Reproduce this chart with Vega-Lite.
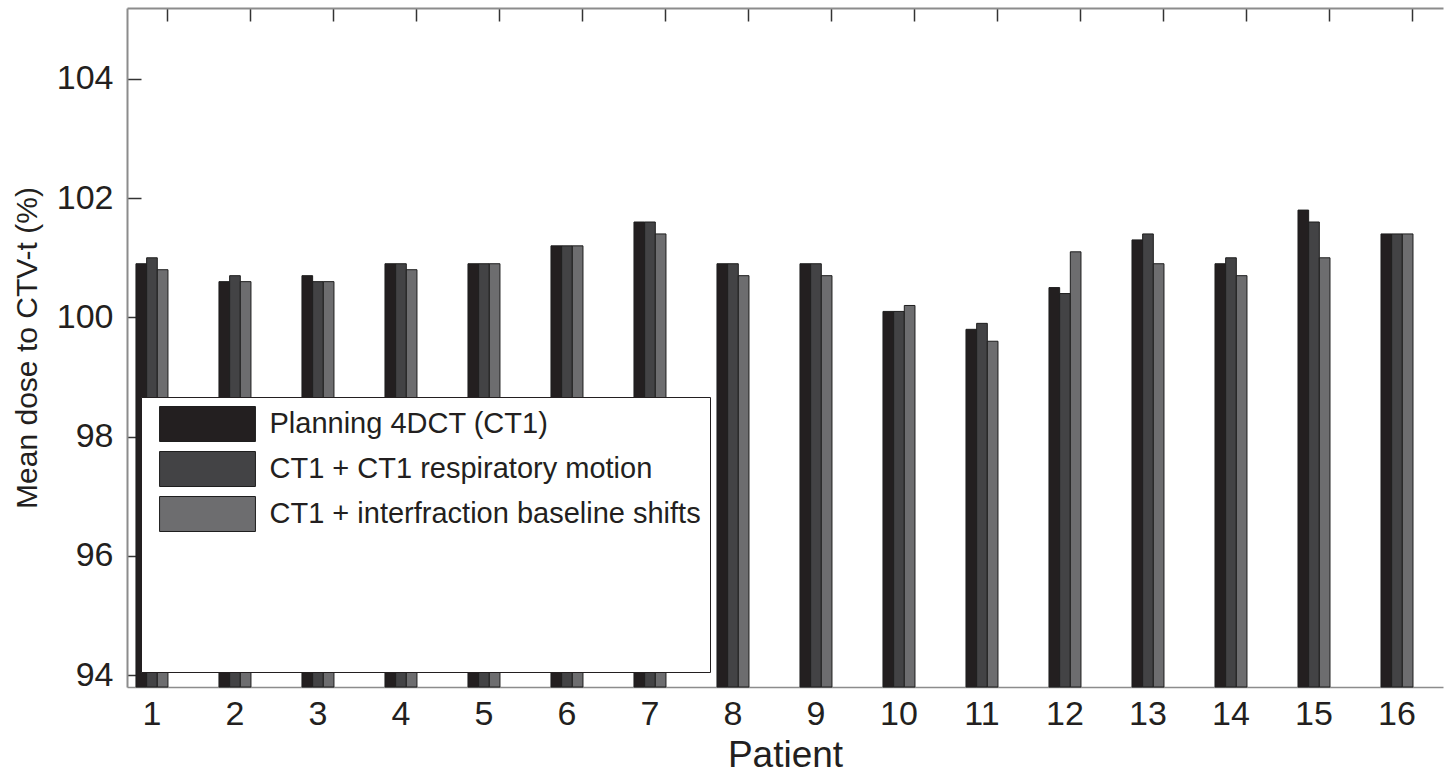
{
  "$schema": "https://vega.github.io/schema/vega-lite/v6.json",
  "width": 1316,
  "height": 679,
  "autosize": {"type": "none"},
  "padding": {"left": 127, "top": 8, "right": 2, "bottom": 91},
  "background": "white",
  "config": {"view": {"stroke": null}, "font": "Liberation Sans"},
  "data": {"values": [
    {"patient": 1, "condition": "Planning 4DCT (CT1)", "dose": 100.9},
    {"patient": 1, "condition": "CT1 + CT1 respiratory motion", "dose": 101.0},
    {"patient": 1, "condition": "CT1 + interfraction baseline shifts", "dose": 100.8},
    {"patient": 2, "condition": "Planning 4DCT (CT1)", "dose": 100.6},
    {"patient": 2, "condition": "CT1 + CT1 respiratory motion", "dose": 100.7},
    {"patient": 2, "condition": "CT1 + interfraction baseline shifts", "dose": 100.6},
    {"patient": 3, "condition": "Planning 4DCT (CT1)", "dose": 100.7},
    {"patient": 3, "condition": "CT1 + CT1 respiratory motion", "dose": 100.6},
    {"patient": 3, "condition": "CT1 + interfraction baseline shifts", "dose": 100.6},
    {"patient": 4, "condition": "Planning 4DCT (CT1)", "dose": 100.9},
    {"patient": 4, "condition": "CT1 + CT1 respiratory motion", "dose": 100.9},
    {"patient": 4, "condition": "CT1 + interfraction baseline shifts", "dose": 100.8},
    {"patient": 5, "condition": "Planning 4DCT (CT1)", "dose": 100.9},
    {"patient": 5, "condition": "CT1 + CT1 respiratory motion", "dose": 100.9},
    {"patient": 5, "condition": "CT1 + interfraction baseline shifts", "dose": 100.9},
    {"patient": 6, "condition": "Planning 4DCT (CT1)", "dose": 101.2},
    {"patient": 6, "condition": "CT1 + CT1 respiratory motion", "dose": 101.2},
    {"patient": 6, "condition": "CT1 + interfraction baseline shifts", "dose": 101.2},
    {"patient": 7, "condition": "Planning 4DCT (CT1)", "dose": 101.6},
    {"patient": 7, "condition": "CT1 + CT1 respiratory motion", "dose": 101.6},
    {"patient": 7, "condition": "CT1 + interfraction baseline shifts", "dose": 101.4},
    {"patient": 8, "condition": "Planning 4DCT (CT1)", "dose": 100.9},
    {"patient": 8, "condition": "CT1 + CT1 respiratory motion", "dose": 100.9},
    {"patient": 8, "condition": "CT1 + interfraction baseline shifts", "dose": 100.7},
    {"patient": 9, "condition": "Planning 4DCT (CT1)", "dose": 100.9},
    {"patient": 9, "condition": "CT1 + CT1 respiratory motion", "dose": 100.9},
    {"patient": 9, "condition": "CT1 + interfraction baseline shifts", "dose": 100.7},
    {"patient": 10, "condition": "Planning 4DCT (CT1)", "dose": 100.1},
    {"patient": 10, "condition": "CT1 + CT1 respiratory motion", "dose": 100.1},
    {"patient": 10, "condition": "CT1 + interfraction baseline shifts", "dose": 100.2},
    {"patient": 11, "condition": "Planning 4DCT (CT1)", "dose": 99.8},
    {"patient": 11, "condition": "CT1 + CT1 respiratory motion", "dose": 99.9},
    {"patient": 11, "condition": "CT1 + interfraction baseline shifts", "dose": 99.6},
    {"patient": 12, "condition": "Planning 4DCT (CT1)", "dose": 100.5},
    {"patient": 12, "condition": "CT1 + CT1 respiratory motion", "dose": 100.4},
    {"patient": 12, "condition": "CT1 + interfraction baseline shifts", "dose": 101.1},
    {"patient": 13, "condition": "Planning 4DCT (CT1)", "dose": 101.3},
    {"patient": 13, "condition": "CT1 + CT1 respiratory motion", "dose": 101.4},
    {"patient": 13, "condition": "CT1 + interfraction baseline shifts", "dose": 100.9},
    {"patient": 14, "condition": "Planning 4DCT (CT1)", "dose": 100.9},
    {"patient": 14, "condition": "CT1 + CT1 respiratory motion", "dose": 101.0},
    {"patient": 14, "condition": "CT1 + interfraction baseline shifts", "dose": 100.7},
    {"patient": 15, "condition": "Planning 4DCT (CT1)", "dose": 101.8},
    {"patient": 15, "condition": "CT1 + CT1 respiratory motion", "dose": 101.6},
    {"patient": 15, "condition": "CT1 + interfraction baseline shifts", "dose": 101.0},
    {"patient": 16, "condition": "Planning 4DCT (CT1)", "dose": 101.4},
    {"patient": 16, "condition": "CT1 + CT1 respiratory motion", "dose": 101.4},
    {"patient": 16, "condition": "CT1 + interfraction baseline shifts", "dose": 101.4}
  ]},
  "layer": [
    {
      "mark": {"type": "bar", "stroke": "#1e1e1e", "strokeWidth": 1},
      "encoding": {
        "x": {
          "field": "patient", "type": "ordinal",
          "scale": {"paddingInner": 0.6145, "paddingOuter": 0.2348, "align": 0.23, "round": false},
          "axis": {
            "orient": "bottom", "title": "Patient", "bandPosition": 1, "ticks": false,
            "labelAngle": 0, "labelFontSize": 34, "labelPadding": 10, "labelColor": "#231f20",
            "titleFontSize": 37, "titleFontWeight": "normal", "titlePadding": 6, "titleColor": "#231f20",
            "domainColor": "#8c8c8c", "domainWidth": 1.5, "grid": false
          }
        },
        "xOffset": {
          "field": "condition",
          "sort": ["Planning 4DCT (CT1)", "CT1 + CT1 respiratory motion", "CT1 + interfraction baseline shifts"],
          "scale": {"paddingInner": 0, "paddingOuter": 0}
        },
        "y": {
          "field": "dose", "type": "quantitative",
          "scale": {"domain": [93.8, 105.19], "zero": false, "nice": false, "clamp": true},
          "axis": {
            "values": [94, 96, 98, 100, 102, 104], "title": "Mean dose to CTV-t (%)",
            "tickSize": -14, "tickColor": "#333333", "tickWidth": 1.5,
            "labelPadding": 28, "labelFontSize": 34, "labelColor": "#231f20",
            "titleFontSize": 30, "titleFontWeight": "normal", "titlePadding": 14, "titleColor": "#231f20",
            "domainColor": "#8c8c8c", "domainWidth": 2, "grid": false
          }
        },
        "color": {
          "field": "condition", "type": "nominal",
          "scale": {
            "domain": ["Planning 4DCT (CT1)", "CT1 + CT1 respiratory motion", "CT1 + interfraction baseline shifts"],
            "range": ["#231f20", "#434345", "#6d6d6f"]
          },
          "legend": {
            "title": " ", "titleOrient": "bottom", "titleFontSize": 2, "titlePadding": 127,
            "orient": "none", "legendX": 14, "legendY": 389, "direction": "vertical",
            "symbolType": "M-2.74,-1H2.74V1H-2.74Z", "symbolSize": 1225,
            "symbolStrokeColor": "#1e1e1e", "symbolStrokeWidth": 1, "symbolOffset": 39.5,
            "labelOffset": 44, "labelFontSize": 29, "labelLimit": 700, "labelColor": "#231f20",
            "rowPadding": 5, "padding": 9, "strokeColor": "#231f20", "fillColor": "white", "cornerRadius": 0
          }
        }
      }
    },
    {
      "mark": {"type": "point", "opacity": 0},
      "encoding": {
        "x": {
          "field": "patient", "type": "ordinal",
          "axis": {
            "orient": "top", "title": null, "labels": false, "bandPosition": 1,
            "tickSize": -13, "tickColor": "#333333", "tickWidth": 1.5,
            "domainColor": "#8c8c8c", "domainWidth": 2, "grid": false
          }
        }
      }
    }
  ],
  "resolve": {"axis": {"x": "independent"}}
}
